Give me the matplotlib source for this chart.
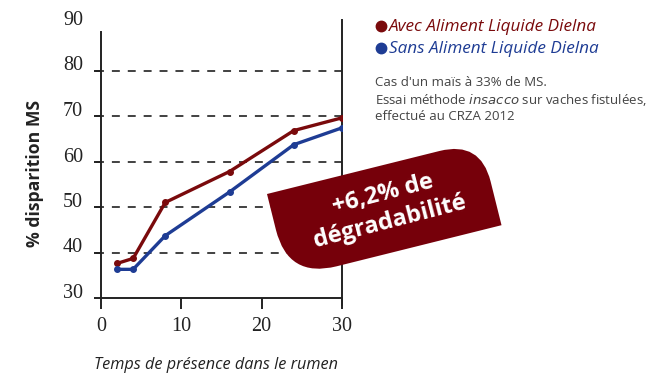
import matplotlib
matplotlib.use('Agg')
import matplotlib.pyplot as plt
from matplotlib.path import Path
from matplotlib.patches import PathPatch
from matplotlib.transforms import Affine2D, ScaledTranslation

# temps (h) et % disparition MS
temps = [2, 4, 8, 16, 24, 30]
avec_dielna = [37.6, 38.7, 51.0, 57.8, 66.8, 69.6]
sans_dielna = [36.3, 36.3, 43.7, 53.3, 63.7, 67.4]

x_ticks = [0, 10, 20, 30]
y_ticks = [30, 40, 50, 60, 70, 80, 90]
grid_levels = [40, 50, 60, 70, 80]

red = '#7a0a0c'
blue = '#1e3c94'
badge_red = '#76000a'

W, H = 669, 387
fig = plt.figure(figsize=(W / 100, H / 100), dpi=100)
ax = fig.add_axes([101 / W, (H - 298) / H, 241 / W, 273 / H])

ax.set_xlim(0, 30)
ax.set_ylim(30, 90)

for lvl in grid_levels:
    ax.plot([-0.62, 30], [lvl, lvl], color='#333333', lw=1.3,
            dashes=(4.4, 4.4), clip_on=False, zorder=1)

ax.plot(temps, avec_dielna, color=red, lw=2.4, marker='o', ms=4, zorder=3)
ax.plot(temps, sans_dielna, color=blue, lw=2.4, marker='o', ms=4, zorder=3)

ax.spines['top'].set_visible(False)
for s in ['left', 'bottom', 'right']:
    ax.spines[s].set_color('#222222')
    ax.spines[s].set_linewidth(1.4)
ax.spines['left'].set_bounds(30, 88.5)
ax.spines['right'].set_bounds(28.4, 91.1)
ax.spines['right'].set_zorder(1)

ax.set_xticks(x_ticks)
ax.set_yticks(y_ticks)
ax.tick_params(axis='x', length=8, width=1.4, color='#222222', pad=6,
               labelsize=14.5)
ax.tick_params(axis='y', length=5, width=1.4, color='#222222', pad=8,
               labelsize=14.5)
ax.yaxis.get_major_ticks()[-1].tick1line.set_visible(False)
for lab in ax.get_xticklabels() + ax.get_yticklabels():
    lab.set_fontfamily('Liberation Serif')
    lab.set_color('#222222')
for lab in ax.get_yticklabels():
    lab.set_transform(lab.get_transform() + ScaledTranslation(0, 7 / 100, fig.dpi_scale_trans))

fig.text(35 / W, 1 - 173 / H, '% disparition MS', rotation=90, ha='center', va='center',
         fontfamily='Open Sans', fontweight='bold', fontsize=12.7, color='#222222')
fig.text(216 / W, 1 - 365 / H, 'Temps de présence dans le rumen', ha='center', va='center',
         fontfamily='Open Sans', style='italic', fontsize=11.7, color='#222222')

# legende
fig.lines.append(plt.Line2D([381 / W], [1 - 26 / H], marker='o', ms=7.5, color=red,
                            transform=fig.transFigure))
fig.lines.append(plt.Line2D([381 / W], [1 - 48 / H], marker='o', ms=7.5, color=blue,
                            transform=fig.transFigure))
fig.text(389 / W, 1 - 27 / H, 'Avec Aliment Liquide Dielna', ha='left', va='center',
         fontfamily='Open Sans', style='italic', fontsize=12.3, color=red)
fig.text(389 / W, 1 - 49 / H, 'Sans Aliment Liquide Dielna', ha='left', va='center',
         fontfamily='Open Sans', style='italic', fontsize=12.3, color=blue)

note = dict(ha='left', va='center', fontfamily='Open Sans', fontsize=9.5, color='#444444')
fig.text(375 / W, 1 - 82 / H, "Cas d'un maïs à 33% de MS.", **note)
fig.text(375 / W, 1 - 100 / H, 'Essai méthode $\\it{insacco}$ sur vaches fistulées,', **note)
fig.text(375 / W, 1 - 117 / H, 'effectué au CRZA 2012', **note)

# badge
bw, bh, r1, r2 = 220, 87, 42, 50
verts = [(0, 0), (bw - r1, 0), (bw, 0), (bw, -r1), (bw, -bh), (r2, -bh), (0, -bh), (0, -bh + r2), (0, 0)]
codes = [Path.MOVETO, Path.LINETO, Path.CURVE3, Path.CURVE3, Path.LINETO, Path.LINETO,
         Path.CURVE3, Path.CURVE3, Path.CLOSEPOLY]
tr = Affine2D().rotate_deg(14).translate(267, H - 194).scale(1 / W, 1 / H) + fig.transFigure
fig.patches.append(PathPatch(Path(verts, codes), facecolor=badge_red, edgecolor='none',
                             transform=tr, zorder=5))
fig.text(386 / W, 1 - 208 / H, '+6,2% de\ndégradabilité', ha='center', va='center',
         rotation=14.5, rotation_mode='anchor', linespacing=1.2, fontfamily='Open Sans',
         fontweight='bold', fontsize=17, color='white', zorder=6)

fig.savefig('out.png', dpi=100)
